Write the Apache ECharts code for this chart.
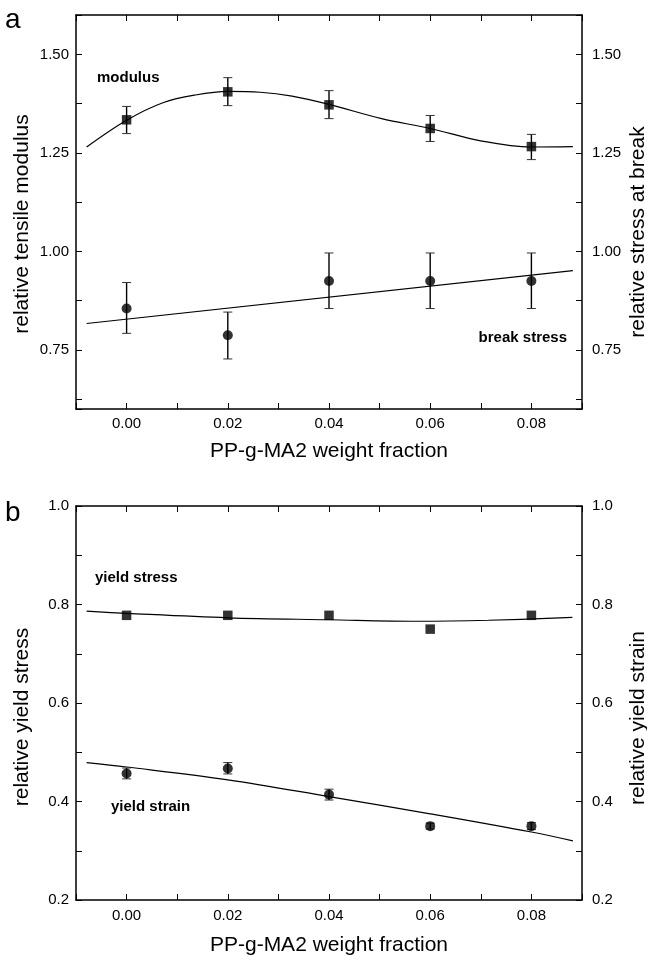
<!DOCTYPE html>
<html>
<head>
<meta charset="utf-8">
<script src="https://cdn.jsdelivr.net/npm/echarts/dist/echarts.min.js"></script>
<style>
html,body{margin:0;padding:0;background:#fff;}
#chart{width:647px;height:956px;}
</style>
</head>
<body>
<div id="chart"></div>
<script>
// ---------- data ----------
const fractions = [0.00, 0.02, 0.04, 0.06, 0.08];

// panel a
const modulus      = [1.334, 1.405, 1.372, 1.312, 1.266];
const modulusLow   = [1.299, 1.370, 1.337, 1.279, 1.233];
const modulusHigh  = [1.368, 1.441, 1.408, 1.345, 1.297];
const modulusFitX  = [-0.0079, 0.0, 0.0073, 0.0136, 0.02, 0.0264, 0.0327, 0.04, 0.0504, 0.06, 0.0702, 0.08, 0.0882];
const modulusFitY  = [1.265, 1.333, 1.378, 1.397, 1.406, 1.404, 1.394, 1.373, 1.337, 1.312, 1.280, 1.265, 1.266];

const breakStress  = [0.855, 0.787, 0.925, 0.925, 0.925];
const breakLow     = [0.792, 0.727, 0.855, 0.855, 0.855];
const breakHigh    = [0.921, 0.846, 0.996, 0.996, 0.996];
const breakFitX    = [-0.0079, 0.0882];
const breakFitY    = [0.817, 0.951];

// panel b
const yieldStress     = [0.778, 0.778, 0.778, 0.750, 0.778];
const yieldStressFitX = [-0.0079, 0.0, 0.02, 0.04, 0.0574, 0.0715, 0.0881];
const yieldStressFitY = [0.7865, 0.782, 0.773, 0.769, 0.766, 0.768, 0.7737];

const yieldStrain     = [0.457, 0.467, 0.414, 0.350, 0.350];
const yieldStrainLow  = [0.446, 0.456, 0.403, 0.344, 0.343];
const yieldStrainHigh = [0.468, 0.479, 0.425, 0.356, 0.357];
const yieldStrainFitX = [-0.0079, 0.0, 0.02, 0.04, 0.06, 0.08, 0.0882];
const yieldStrainFitY = [0.479, 0.470, 0.444, 0.410, 0.375, 0.338, 0.320];

// axis ranges / labels
const xRange = [-0.01, 0.09];
const yRangeA = [0.6, 1.6];
const yRangeB = [0.2, 1.0];
const xTitle = 'PP-g-MA2 weight fraction';
const yTitlesA = ['relative tensile modulus', 'relative stress at break'];
const yTitlesB = ['relative yield stress', 'relative yield strain'];
const annotations = ['modulus', 'break stress', 'yield stress', 'yield strain'];
const panelLetters = ['a', 'b'];

// ---------- helpers ----------
const FONT = "'Liberation Sans', Arial, Helvetica, sans-serif";
const TICK_FS = 15;
const pairs = (xs, ys) => xs.map((x, i) => [x, ys[i]]);
const tri = (xs, lo, hi) => xs.map((x, i) => [x, lo[i], hi[i]]);

const axisLine = {show: true, onZero: false, lineStyle: {color: '#000', width: 1.5}};
const tick = {show: true, inside: true, length: 6, lineStyle: {color: '#000', width: 1}};

function xAxisDef(grid, pos, showLabel, margin) {
  return {
    type: 'value', gridIndex: grid, position: pos,
    min: xRange[0], max: xRange[1], interval: 0.01,
    axisLine: axisLine, axisTick: tick, splitLine: {show: false},
    axisLabel: {
      show: showLabel, fontFamily: FONT, fontSize: TICK_FS, color: '#000', margin: margin,
      formatter: v => (Math.round(v * 100) % 2 === 0 ? v.toFixed(2) : '')
    }
  };
}
function yAxisA(pos, margin) {
  return {
    type: 'value', gridIndex: 0, position: pos,
    min: yRangeA[0], max: yRangeA[1], splitNumber: 8, minInterval: 0.125, maxInterval: 0.125,
    axisLine: axisLine, axisTick: tick, splitLine: {show: false},
    axisLabel: {
      fontFamily: FONT, fontSize: TICK_FS, color: '#000', margin: margin,
      formatter: v => {
        const k = Math.round(v * 100);
        return (k % 25 === 0 && v > 0.61 && v < 1.59) ? v.toFixed(2) : '';
      }
    }
  };
}
function yAxisB(pos, margin) {
  return {
    type: 'value', gridIndex: 1, position: pos,
    min: yRangeB[0], max: yRangeB[1], interval: 0.1,
    axisLine: axisLine, axisTick: tick, splitLine: {show: false},
    axisLabel: {
      fontFamily: FONT, fontSize: TICK_FS, color: '#000', margin: margin,
      formatter: v => (Math.round(v * 10) % 2 === 0 ? v.toFixed(1) : '')
    }
  };
}

function errRender(params, api) {
  const x = api.value(0), lo = api.value(1), hi = api.value(2);
  const a = api.coord([x, lo]), b = api.coord([x, hi]);
  const w = 4.5;
  return {
    type: 'group',
    children: [
      {type: 'line', shape: {x1: a[0], y1: a[1], x2: b[0], y2: b[1]}, style: {stroke: '#000', lineWidth: 1.4}},
      {type: 'line', shape: {x1: a[0] - w, y1: a[1], x2: a[0] + w, y2: a[1]}, style: {stroke: '#333', lineWidth: 1}},
      {type: 'line', shape: {x1: b[0] - w, y1: b[1], x2: b[0] + w, y2: b[1]}, style: {stroke: '#333', lineWidth: 1}}
    ]
  };
}
function errSeries(xi, yi, data) {
  return {type: 'custom', xAxisIndex: xi, yAxisIndex: yi, renderItem: errRender,
          encode: {x: 0, y: [1, 2]}, data: data, z: 3, silent: true};
}
function fitSeries(xi, yi, data, smooth) {
  return {type: 'line', xAxisIndex: xi, yAxisIndex: yi, data: data, showSymbol: false,
          smooth: smooth, lineStyle: {color: '#000', width: 1.2}, z: 2, silent: true};
}
function pointSeries(xi, yi, data, sym, size) {
  return {type: 'scatter', xAxisIndex: xi, yAxisIndex: yi, data: data, symbol: sym,
          symbolSize: size, itemStyle: {color: '#000'}, z: 5, silent: true};
}
function txt(x, y, s, size, opts) {
  return Object.assign({
    type: 'text', x: x, y: y,
    style: {text: s, fontFamily: FONT, fontSize: size, fill: '#000', align: 'center', verticalAlign: 'middle'}
  }, opts || {});
}
function letter(x, y, s) {
  return {type: 'text', x: x, y: y,
    style: {text: s, fontFamily: FONT, fontSize: 28, fill: '#000', align: 'left', verticalAlign: 'middle'}};
}
function boldTxt(x, y, s, align) {
  return {type: 'text', x: x, y: y,
    style: {text: s, fontFamily: FONT, fontSize: 15, fontWeight: 'bold', fill: '#000', align: align, verticalAlign: 'middle'}};
}

const chart = echarts.init(document.getElementById('chart'), null, {renderer: 'canvas'});
chart.setOption({
  animation: false,
  backgroundColor: '#fff',
  grid: [
    {left: 76, top: 15, width: 506, height: 394},
    {left: 76, top: 506, width: 506, height: 394}
  ],
  xAxis: [
    xAxisDef(0, 'bottom', true, 7),
    xAxisDef(0, 'top', false, 7),
    xAxisDef(1, 'bottom', true, 8),
    xAxisDef(1, 'top', false, 8)
  ],
  yAxis: [
    yAxisA('left', 7),
    yAxisA('right', 10),
    yAxisB('left', 7),
    yAxisB('right', 10)
  ],
  series: [
    fitSeries(0, 0, pairs(modulusFitX, modulusFitY), 0.35),
    errSeries(0, 0, tri(fractions, modulusLow, modulusHigh)),
    pointSeries(0, 0, pairs(fractions, modulus), 'rect', 9.5),

    fitSeries(0, 1, pairs(breakFitX, breakFitY), false),
    errSeries(0, 1, tri(fractions, breakLow, breakHigh)),
    pointSeries(0, 1, pairs(fractions, breakStress), 'circle', 10),

    fitSeries(2, 2, pairs(yieldStressFitX, yieldStressFitY), 0.35),
    pointSeries(2, 2, pairs(fractions, yieldStress), 'rect', 9.5),

    fitSeries(2, 3, pairs(yieldStrainFitX, yieldStrainFitY), 0.35),
    errSeries(2, 3, tri(fractions, yieldStrainLow, yieldStrainHigh)),
    pointSeries(2, 3, pairs(fractions, yieldStrain), 'circle', 10)
  ],
  graphic: [
    letter(5, 20, panelLetters[0]),
    letter(5, 513, panelLetters[1]),
    txt(329, 451, xTitle, 21),
    txt(329, 945, xTitle, 21),
    txt(22, 224, yTitlesA[0], 21, {rotation: Math.PI / 2}),
    txt(638, 232, yTitlesA[1], 21, {rotation: Math.PI / 2}),
    txt(22, 717, yTitlesB[0], 21, {rotation: Math.PI / 2}),
    txt(638, 718, yTitlesB[1], 21, {rotation: Math.PI / 2}),
    boldTxt(97, 78, annotations[0], 'left'),
    boldTxt(567, 338, annotations[1], 'right'),
    boldTxt(95, 578, annotations[2], 'left'),
    boldTxt(111, 807, annotations[3], 'left')
  ]
});
</script>
</body>
</html>
